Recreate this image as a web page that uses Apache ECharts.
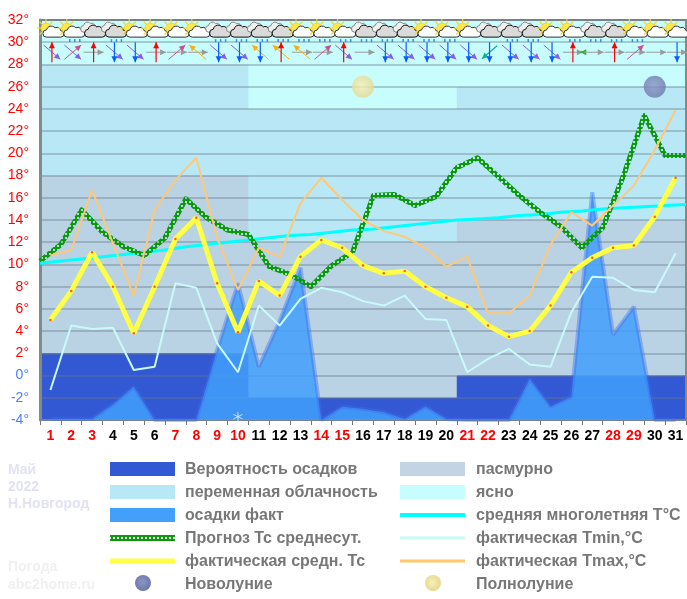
<!DOCTYPE html>
<html>
<head>
<meta charset="utf-8">
<style>html,body{margin:0;padding:0;background:#fff}#chart{width:687px;height:599px}</style>
<script src="https://cdn.jsdelivr.net/npm/echarts@6/dist/echarts.min.js"></script>
</head>
<body>
<div id="chart"></div>
<script>
var days = ['1','2','3','4','5','6','7','8','9','10','11','12','13','14','15','16','17','18','19','20','21','22','23','24','25','26','27','28','29','30','31'];
var redDays = ['1','2','3','7','8','9','10','14','15','21','22','28','29'];
var edges = ['0','1','2','3','4','5','6','7','8','9','10','11','12','13','14','15','16','17','18','19','20','21','22','23','24','25','26','27','28','29','30','31'];
var yTicks = [-4,-2,0,2,4,6,8,10,12,14,16,18,20,22,24,26,28,30,32];

// верхние границы полос облачности по дням
var clearTop = [32,32,32,32,32,32,32,32,32,32,32,32,32,32,32,32,32,32,32,32,32,32,32,32,32,32,32,32,32,32,32];
var partlyTop = [28,28,28,28,28,28,28,28,28,28,24,24,24,24,24,24,24,24,24,24,26,26,26,26,26,26,26,26,26,26,26];
var overcastTop = [18,18,18,18,18,18,18,18,18,18,12,12,12,12,12,12,12,12,12,12,14,14,14,14,14,14,14,14,14,14,14];
var rainChanceTop = [2,2,2,2,2,2,2,2,2,2,-2,-2,-2,-2,-2,-2,-2,-2,-2,-2,0,0,0,0,0,0,0,0,0,0,0];

var precipFact = [-3.9,-3.9,-3.9,-2.6,-1,-4,-4,-4,2.3,8.3,0.8,4.9,9.7,-4,-2.8,-3,-3.3,-3.9,-2.8,-3.9,-4,-4,-4,-0.3,-2.8,-1.9,16.5,3.7,6.2,-4,-4];
var forecastAvg = [10.3,11.8,14.9,12.9,11.6,10.8,12.4,15.9,14.2,13.1,12.7,9.8,9.1,8,9.9,11.1,16.2,16.3,15.3,16.1,18.7,19.6,17.9,16.2,14.7,13.4,11.5,13.3,18,23.4,19.8,19.8];
var climateAvg = [10.1,10.3,10.5,10.7,10.9,11.1,11.3,11.6,11.8,12,12.2,12.4,12.6,12.7,12.9,13.1,13.2,13.4,13.6,13.8,14,14.1,14.2,14.4,14.5,14.7,14.8,15,15.1,15.2,15.3,15.4];
var factAvg = [5,7.6,11.1,8,3.8,8,12.3,14.2,8.3,3.9,8.5,7.2,10.7,12.2,11.5,9.9,9.2,9.4,8,7,6.2,4.5,3.5,4,6.3,9.3,10.6,11.5,11.7,14.3,17.8];
var factMin = [-1.3,4.5,4.2,4.3,0.5,0.8,8.3,7.9,2.9,0.3,6.3,4.5,6.9,7.9,7.5,6.7,6.3,7.2,5.1,5,0.3,1.5,2.4,1,0.8,5.7,8.9,8.8,7.7,7.5,11];
var factMax = [10.8,11.3,16.7,11.9,7.2,14.9,17.6,19.6,12.4,7.7,11.5,10.7,15.5,17.8,15.8,14,13,12.5,11.5,9.8,10.7,5.6,5.6,7.2,11.8,14.7,13.5,15.3,17.1,20.3,23.9];

var fullMoonDays = ['16'];
var newMoonDays = ['30'];
var moonLevel = 26;
var snowDays = ['10'];
var snowLevel = -3.7;

// s - солнце с облаком, c - пасмурно; r - осадки
var skyIcons = ['s','s','c','c','s','s','s','s','c','c','c','c','s','s','s','c','c','c','s','s','s','c','c','c','s','s','c','c','s','s','s'];
var rainIcons = [0,1,0,1,0,0,0,0,1,1,1,1,1,1,1,1,1,1,1,1,0,0,1,1,0,1,1,1,1,0,0];
var windFirst = ['N','NE','N','S','S','N','NE','NW','S','S','S','N','NW','NE','N','E','S','S','S','S','S','S','S','S','S','N','E','N','NE','E','S'];
var windSecond = ['SE','SE','E','SE','SE','E','E','E','SE','SE','NW','NW','E','E','SE','','SE','SE','SE','SE','SE','SW','SE','SE','SE','E','g','E','E','','E'];

var legendLeft = ['Вероятность осадков','переменная облачность','осадки факт','Прогноз Тс среднесут.','фактическая средн. Тс','Новолуние'];
var legendRight = ['пасмурно','ясно','средняя многолетняя T°C','фактическая Tmin,°C','фактическая Tmax,°C','Полнолуние'];

var C_RAIN = '#3358d4', C_PARTLY = '#b8e8f6', C_OVER = '#b9d2e4', C_CLEAR = '#c8fdfd', C_PRECIP = '#42a0fb';
var fontName = '"Liberation Sans", Arial, sans-serif';

// ячейка для "цепочки" прогнозной линии
function chainPattern() {
  var c = document.createElement('canvas');
  c.width = 4; c.height = 4;
  var ctx = c.getContext('2d');
  ctx.fillStyle = '#0a9a0a';
  ctx.fillRect(0, 0, 4, 4);
  ctx.clearRect(1, 1, 2, 2);
  return {image: c, repeat: 'repeat'};
}
var chain = chainPattern();

function moonFill(inner, outer) {
  return {type: 'radial', x: 0.45, y: 0.45, r: 0.6, colorStops: [{offset: 0, color: inner}, {offset: 1, color: outer}]};
}
var fullFill = moonFill('#f8f0b8', '#e4d68c');
var newFill = moonFill('#8a93c4', '#6c78aa');

function band(name, values, color) {
  return {
    name: name, type: 'line', xAxisIndex: 1, step: 'start', symbol: 'none', silent: true, z: 0,
    data: [values[0]].concat(values),
    lineStyle: {width: 0},
    areaStyle: {color: color, opacity: 1, origin: 'start'}
  };
}

var CLOUD = 'M6 20 A5 5 0 0 1 6 10 A7 7 0 0 1 18 7 A5.5 5.5 0 0 1 26 11 A4.5 4.5 0 0 1 26 20 Z';

function renderSky(params, api) {
  var i = api.value(0);
  var p = api.coord([i, 31]);
  var x = p[0] + 1.5, y = p[1];
  var kids = [];
  if (skyIcons[i] === 's') {
    for (var a = 0; a < 8; a++) {
      var ang = a * Math.PI / 4;
      kids.push({type: 'line', shape: {x1: x - 6, y1: y - 3, x2: x - 6 + Math.cos(ang) * 9, y2: y - 3 + Math.sin(ang) * 9},
        style: {stroke: '#f5d52a', lineWidth: 1.2}});
    }
    kids.push({type: 'circle', shape: {cx: x - 6, cy: y - 3, r: 5}, style: {fill: '#ffe64a', stroke: '#e8c020', lineWidth: 0.5}});
    kids.push({type: 'path', shape: {pathData: CLOUD, x: x - 9, y: y - 5, width: 21, height: 11, layout: 'cover'},
      style: {fill: '#fdfdfd', stroke: '#333', lineWidth: 1}});
  } else {
    kids.push({type: 'path', shape: {pathData: CLOUD, x: x - 13, y: y - 9, width: 17, height: 10, layout: 'cover'},
      style: {fill: '#f0f0f0', stroke: '#888', lineWidth: 1}});
    kids.push({type: 'path', shape: {pathData: CLOUD, x: x - 9, y: y - 6, width: 21, height: 12, layout: 'cover'},
      style: {fill: '#dadada', stroke: '#111', lineWidth: 1}});
  }
  if (rainIcons[i]) {
    for (var k = 0; k < 3; k++) {
      kids.push({type: 'line', shape: {x1: x - 3 + k * 5, y1: y + 8, x2: x - 3 + k * 5, y2: y + 11}, style: {stroke: '#2a90ee', lineWidth: 1.5}});
    }
  }
  return {type: 'group', children: kids};
}

var windStyle = {
  N: {dx: 0, dy: -1, len: 20, color: '#ff0000', w: 1.2},
  S: {dx: 0, dy: 1, len: 20, color: '#0a5cff', w: 1.2},
  E: {dx: 1, dy: 0, len: 20, color: '#9a9a9a', w: 1},
  SE: {dx: 0.76, dy: 0.65, len: 22, color: '#8a5ce6', w: 1},
  NE: {dx: 0.76, dy: -0.65, len: 22, color: '#c85090', w: 1},
  NW: {dx: -0.76, dy: -0.65, len: 22, color: '#f8b010', w: 1},
  SW: {dx: -0.76, dy: 0.65, len: 20, color: '#10b090', w: 1.2},
  g: {dx: -1, dy: 0, len: 5, color: '#30b030', w: 1.5, shift: -11}
};

function arrow(x, y, code) {
  var s = windStyle[code];
  var cx = x + (s.shift || 0);
  var x2 = cx + s.dx * s.len / 2, y2 = y + s.dy * s.len / 2;
  var x1 = cx - s.dx * s.len / 2, y1 = y - s.dy * s.len / 2;
  var hx = x2 - s.dx * 6, hy = y2 - s.dy * 6;
  return [
    {type: 'line', shape: {x1: x1, y1: y1, x2: x2, y2: y2}, style: {stroke: s.color, lineWidth: s.w}},
    {type: 'polygon', shape: {points: [[x2, y2], [hx - s.dy * 3, hy + s.dx * 3], [hx + s.dy * 3, hy - s.dx * 3]]}, style: {fill: s.color}}
  ];
}

function renderWind(params, api) {
  var i = api.value(0);
  var p = api.coord([i, 29.1]);
  var kids = [];
  if (windSecond[i]) kids = kids.concat(arrow(p[0] + 1.5, p[1], windSecond[i]));
  if (windFirst[i]) kids = kids.concat(arrow(p[0] + 1.5, p[1], windFirst[i]));
  return {type: 'group', children: kids};
}

function legendRow(list, swatchX, textX, swatches) {
  var out = [];
  list.forEach(function (name, n) {
    var y = 469 + n * 23;
    var sw = swatches[n];
    if (sw.moon) {
      out.push({type: 'circle', shape: {cx: swatchX + 33, cy: y - 1, r: 8}, style: {fill: sw.moon}});
    } else {
      out.push({type: 'rect', shape: {x: swatchX, y: y - sw.h / 2, width: 65, height: sw.h}, style: {fill: sw.fill}});
    }
    out.push({type: 'text', x: textX, y: y + 1, style: {text: name, fill: '#777', font: 'bold 16px ' + fontName, textVerticalAlign: 'middle'}});
  });
  return out;
}

function note(text, y, color) {
  return {type: 'text', x: 8, y: y, style: {text: text, fill: color, font: 'bold 14px ' + fontName, textVerticalAlign: 'middle'}};
}

var chart = echarts.init(document.getElementById('chart'));
chart.setOption({
  animation: false,
  backgroundColor: '#fff',
  grid: {left: 40, right: 1, top: 20, bottom: 179, show: true, borderColor: '#7f8c8c', borderWidth: 2, backgroundColor: 'transparent', z: 1},
  xAxis: [
    {
      type: 'category', data: days, boundaryGap: true,
      axisLine: {onZero: false, lineStyle: {color: '#7f8c8c', width: 2}},
      axisTick: {show: true, length: 5, alignWithLabel: false, lineStyle: {color: '#777'}},
      axisLabel: {
        interval: 0, margin: 9, fontSize: 14, fontWeight: 'bold', fontFamily: fontName,
        color: function (v) { return redDays.indexOf(v) >= 0 ? '#ff0000' : '#000'; }
      }
    },
    {type: 'category', data: edges, boundaryGap: false, show: false}
  ],
  yAxis: {
    type: 'value', min: yTicks[0], max: yTicks[yTicks.length - 1], interval: 2, z: 1,
    axisLine: {show: true, lineStyle: {color: '#7f8c8c', width: 3}},
    axisTick: {show: true, length: 0},
    axisLabel: {
      margin: 11, fontSize: 14, fontFamily: fontName, padding: [6, 0, 0, 0],
      formatter: function (v) { return v + '°'; },
      color: function (v) { return Number(String(v).replace('°', '')) > 0 ? '#ff0000' : '#4a80ff'; }
    },
    splitLine: {show: true, lineStyle: {color: 'rgba(105,120,135,0.38)', width: 2}}
  },
  series: [
    band('ясно', clearTop, C_CLEAR),
    band('переменная облачность', partlyTop, C_PARTLY),
    band('пасмурно', overcastTop, C_OVER),
    band('Вероятность осадков', rainChanceTop, C_RAIN),
    {
      name: 'осадки факт', type: 'line', data: precipFact, symbol: 'none', z: 2,
      lineStyle: {color: 'rgba(60,110,235,0.4)', width: 4},
      areaStyle: {color: C_PRECIP, opacity: 0.85, origin: 'start'}
    },
    {
      name: 'средняя многолетняя T°C', type: 'line', xAxisIndex: 1, data: climateAvg, symbol: 'none', z: 3,
      lineStyle: {color: '#00ffff', width: 3}
    },
    {
      name: 'Прогноз Тс среднесут.', type: 'line', xAxisIndex: 1, data: forecastAvg, symbol: 'none', z: 3,
      lineStyle: {color: chain, width: 5, join: 'round'}
    },
    {
      name: 'фактическая Tmin,°C', type: 'line', data: factMin, symbol: 'none', z: 3,
      lineStyle: {color: '#c8fafa', width: 2}
    },
    {
      name: 'фактическая Tmax,°C', type: 'line', data: factMax, symbol: 'none', z: 3,
      lineStyle: {color: '#ffc878', width: 2}
    },
    {
      name: 'фактическая средн. Тс', type: 'line', data: factAvg, symbol: 'circle', symbolSize: 2.5, z: 4,
      itemStyle: {color: '#ff5a30'},
      lineStyle: {color: '#ffff44', width: 5}
    },
    {
      name: 'Полнолуние', type: 'scatter', symbolSize: 22, z: 5,
      data: fullMoonDays.map(function (d) { return [d, moonLevel]; }),
      itemStyle: {color: fullFill}
    },
    {
      name: 'Новолуние', type: 'scatter', symbolSize: 22, z: 5,
      data: newMoonDays.map(function (d) { return [d, moonLevel]; }),
      itemStyle: {color: newFill}
    },
    {
      name: 'снег', type: 'scatter', symbol: 'path://M5 0L5 10M0.7 2.5L9.3 7.5M0.7 7.5L9.3 2.5', symbolSize: 9, z: 5,
      data: snowDays.map(function (d) { return [d, snowLevel]; }),
      itemStyle: {color: 'none', borderColor: '#e8f4ff', borderWidth: 1}
    },
    {
      name: 'облачность', type: 'custom', z: 6, clip: false, renderItem: renderSky,
      data: days.map(function (d, i) { return [i]; })
    },
    {
      name: 'ветер', type: 'custom', z: 6, clip: false, renderItem: renderWind,
      data: days.map(function (d, i) { return [i]; })
    }
  ],
  graphic: legendRow(legendLeft, 110, 185, [
    {fill: C_RAIN, h: 14}, {fill: C_PARTLY, h: 14}, {fill: C_PRECIP, h: 14},
    {fill: chain, h: 6}, {fill: '#ffff44', h: 5}, {moon: newFill}
  ]).concat(legendRow(legendRight, 400, 476, [
    {fill: '#c3d5e5', h: 14}, {fill: C_CLEAR, h: 14}, {fill: '#00ffff', h: 4},
    {fill: '#c8fafa', h: 3}, {fill: '#ffc86a', h: 3}, {moon: fullFill}
  ])).concat([
    note('Май', 470, '#e2e2f2'), note('2022', 487, '#e2e2f2'), note('Н.Новгород', 504, '#e2e2f2'),
    note('Погода', 567, '#f0f0f0'), note('abc2home.ru', 585, '#f0f0f0')
  ])
});
</script>
</body>
</html>
